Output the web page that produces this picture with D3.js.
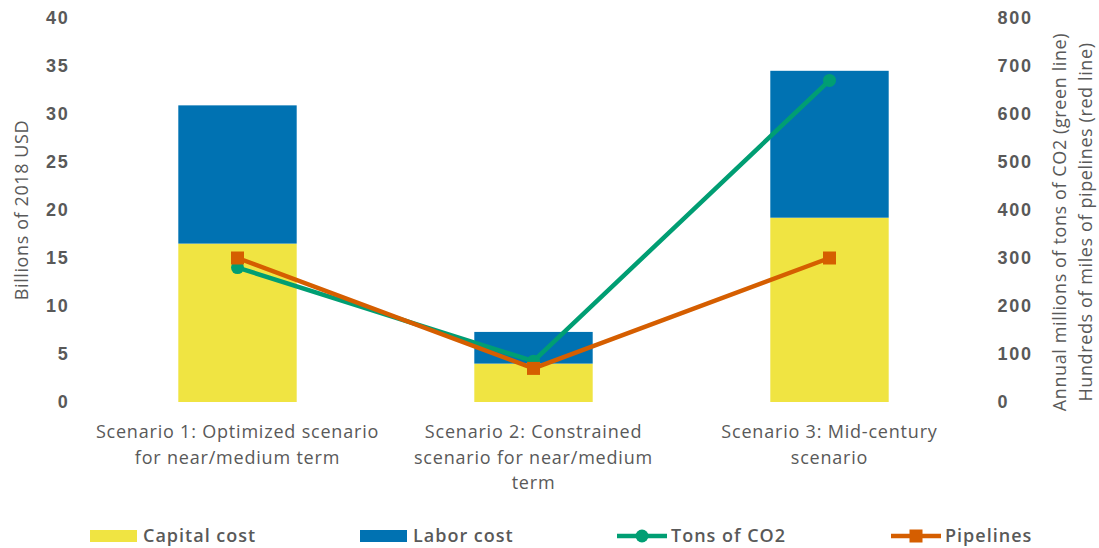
<!DOCTYPE html>
<html>
<head>
<meta charset="utf-8">
<script src="https://cdn.jsdelivr.net/npm/d3@7"></script>
<style>
  html, body { margin: 0; padding: 0; background: #fff; }
  svg { display: block; font-family: "Open Sans", "Noto Sans", sans-serif; }
</style>
</head>
<body>
<svg id="chart" width="1099" height="548"></svg>
<script>
// Scenario categories (each label split into lines)
const categories = [
  ["Scenario 1: Optimized scenario", "for near/medium term"],
  ["Scenario 2: Constrained", "scenario for near/medium", "term"],
  ["Scenario 3: Mid-century", "scenario"]
];
// Cost components, billions of 2018 USD
const capitalCost = [16.5, 4.0, 19.2];
const laborCost = [14.4, 3.3, 15.3];
// Right-axis series
const tonsCO2 = [280, 85, 670];
const pipelines = [300, 70, 300];
// Axis ticks
const leftTicks = [0, 5, 10, 15, 20, 25, 30, 35, 40];
const rightTicks = [0, 100, 200, 300, 400, 500, 600, 700, 800];

const colors = {
  capital: "#F0E442",
  labor: "#0072B2",
  co2: "#009E73",
  pipe: "#D55E00",
  text: "#595959"
};

const svg = d3.select("#chart");
const plot = { left: 89.5, right: 977.5, top: 18, bottom: 402 };

const x = d3.scaleBand()
  .domain(d3.range(categories.length))
  .range([plot.left, plot.right])
  .paddingInner(0.6)
  .paddingOuter(0.3);

const yL = d3.scaleLinear().domain([0, 40]).range([plot.bottom, plot.top]);
const yR = d3.scaleLinear().domain([0, 800]).range([plot.bottom, plot.top]);

// Stacked bars
const stackData = categories.map((c, i) => ({ i, capital: capitalCost[i], labor: laborCost[i] }));
const stacked = d3.stack().keys(["capital", "labor"])(stackData);

svg.append("g").selectAll("g")
  .data(stacked)
  .join("g")
  .attr("fill", d => colors[d.key])
  .selectAll("rect")
  .data(d => d)
  .join("rect")
  .attr("x", d => x(d.data.i))
  .attr("width", x.bandwidth())
  .attr("y", d => yL(d[1]))
  .attr("height", d => yL(d[0]) - yL(d[1]));

// Axis tick label styling
function styleTicks(g) {
  g.select(".domain").remove();
  g.selectAll("text")
    .attr("fill", colors.text)
    .style("font-size", "18px")
    .style("font-weight", "600")
    .style("letter-spacing", "1.8px");
}

// Left axis
svg.append("g")
  .attr("transform", `translate(${plot.left - 20},0)`)
  .call(d3.axisLeft(yL).tickValues(leftTicks).tickSize(0).tickPadding(0))
  .call(styleTicks);

// Right axis
svg.append("g")
  .attr("transform", `translate(${plot.right + 20},0)`)
  .call(d3.axisRight(yR).tickValues(rightTicks).tickSize(0).tickPadding(0))
  .call(styleTicks);

// Axis titles
const midY = (plot.top + plot.bottom) / 2;
svg.append("text")
  .attr("transform", `translate(28,${midY}) rotate(-90)`)
  .attr("text-anchor", "middle")
  .attr("fill", colors.text)
  .style("font-size", "18px")
  .style("letter-spacing", "0.6px")
  .text("Billions of 2018 USD");

const rTitle = svg.append("text")
  .attr("transform", `translate(1066,${midY + 12}) rotate(-90)`)
  .attr("text-anchor", "middle")
  .attr("fill", colors.text)
  .style("font-size", "18px")
  .style("letter-spacing", "0.6px");
rTitle.append("tspan").attr("x", 0).attr("dy", 0).text("Annual millions of tons of CO2 (green line)");
rTitle.append("tspan").attr("x", 0).attr("dy", 26).text("Hundreds of miles of pipelines (red line)");

// Category labels
const catG = svg.append("g");
categories.forEach((lines, i) => {
  const t = catG.append("text")
    .attr("x", x(i) + x.bandwidth() / 2)
    .attr("y", 438)
    .attr("text-anchor", "middle")
    .attr("fill", colors.text)
    .style("font-size", "18px")
    .style("letter-spacing", "0.8px");
  lines.forEach((ln, j) => {
    t.append("tspan")
      .attr("x", x(i) + x.bandwidth() / 2)
      .attr("dy", j === 0 ? 0 : 25.5)
      .text(ln);
  });
});

// Lines with markers
const cx = i => x(i) + x.bandwidth() / 2;
const line = d3.line().x((d, i) => cx(i)).y(d => yR(d));

svg.append("path")
  .datum(tonsCO2)
  .attr("fill", "none")
  .attr("stroke", colors.co2)
  .attr("stroke-width", 4.5)
  .attr("stroke-linejoin", "round")
  .attr("d", line);
svg.append("g").selectAll("circle")
  .data(tonsCO2)
  .join("circle")
  .attr("cx", (d, i) => cx(i))
  .attr("cy", d => yR(d))
  .attr("r", 6.5)
  .attr("fill", colors.co2);

svg.append("path")
  .datum(pipelines)
  .attr("fill", "none")
  .attr("stroke", colors.pipe)
  .attr("stroke-width", 4.5)
  .attr("stroke-linejoin", "round")
  .attr("d", line);
svg.append("g").selectAll("rect")
  .data(pipelines)
  .join("rect")
  .attr("x", (d, i) => cx(i) - 6.5)
  .attr("y", d => yR(d) - 6.5)
  .attr("width", 13)
  .attr("height", 13)
  .attr("fill", colors.pipe);

// Legend
const legendItems = [
  { label: "Capital cost", type: "rect", color: colors.capital, x: 90 },
  { label: "Labor cost", type: "rect", color: colors.labor, x: 360 },
  { label: "Tons of CO2", type: "circle", color: colors.co2, x: 617 },
  { label: "Pipelines", type: "square", color: colors.pipe, x: 891 }
];
const ly = 536;
const lg = svg.append("g");
legendItems.forEach(it => {
  const g = lg.append("g").attr("transform", `translate(${it.x},${ly})`);
  if (it.type === "rect") {
    g.append("rect").attr("x", 0).attr("y", -6).attr("width", 47).attr("height", 12).attr("fill", it.color);
  } else {
    g.append("line").attr("x1", 0).attr("x2", 50).attr("y1", 0).attr("y2", 0)
      .attr("stroke", it.color).attr("stroke-width", 4.5);
    if (it.type === "circle") {
      g.append("circle").attr("cx", 25).attr("cy", 0).attr("r", 6.5).attr("fill", it.color);
    } else {
      g.append("rect").attr("x", 18.5).attr("y", -6.5).attr("width", 13).attr("height", 13).attr("fill", it.color);
    }
  }
  g.append("text")
    .attr("x", it.type === "rect" ? 53 : 54)
    .attr("y", 0)
    .attr("dy", "0.35em")
    .attr("fill", colors.text)
    .style("font-size", "18px")
    .style("font-weight", "600")
    .style("letter-spacing", "1px")
    .text(it.label);
});
</script>
</body>
</html>
